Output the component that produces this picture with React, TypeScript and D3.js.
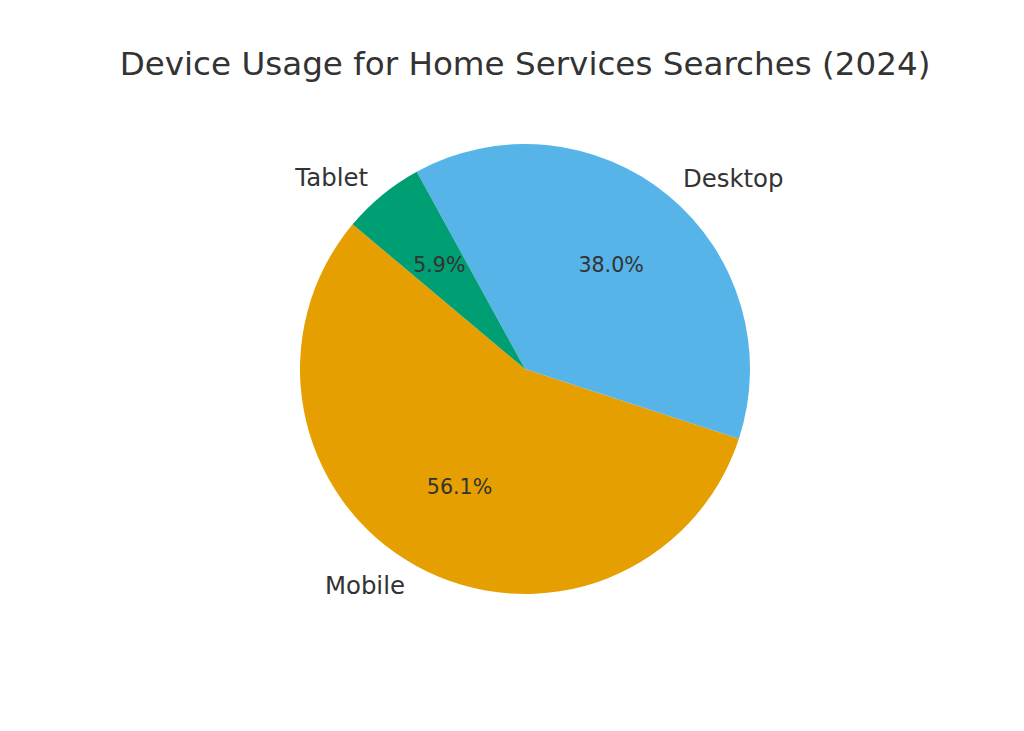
import * as d3 from 'd3';

const LABELS = ['Mobile', 'Desktop', 'Tablet'];
const VALUES = [56.1, 38.0, 5.9];
const COLORS = ['#E69F00', '#56B4E9', '#009E73'];
const TITLE = 'Device Usage for Home Services Searches (2024)';

const WIDTH = 1024;
const HEIGHT = 731;
const CX = 525;
const CY = 369;
const R = 225;
// matplotlib startangle=140, counterclockwise
const START_DEG = 140;

export default function App() {
  const pie = d3
    .pie<number>()
    .sort(null)
    .startAngle(((90 - START_DEG) * Math.PI) / 180)
    .endAngle(((90 - START_DEG - 360) * Math.PI) / 180);
  const arcs = pie(VALUES);
  const arcGen = d3.arc<d3.PieArcDatum<number>>().innerRadius(0).outerRadius(R);
  const total = d3.sum(VALUES);

  const pos = (a: number, r: number) => [r * Math.sin(a), -r * Math.cos(a)];

  return (
    <svg
      width={WIDTH}
      height={HEIGHT}
      style={{ position: 'absolute', left: 0, top: 0, background: '#fff' }}
      fontFamily="DejaVu Sans, sans-serif"
    >
      <text x={525} y={64} textAnchor="middle" dominantBaseline="central" fontSize={32.6} fill="#333333">
        {TITLE}
      </text>
      <g transform={`translate(${CX}, ${CY})`}>
        {arcs.map((a, i) => (
          <path key={LABELS[i]} d={arcGen(a) || ''} fill={COLORS[i]} />
        ))}
        {arcs.map((a, i) => {
          const mid = (a.startAngle + a.endAngle) / 2;
          const [lx, ly] = pos(mid, R * 1.1);
          const [px, py] = pos(mid, R * 0.6);
          return (
            <g key={`t-${LABELS[i]}`}>
              <text
                x={lx}
                y={ly}
                textAnchor={lx < 0 ? 'end' : 'start'}
                dominantBaseline="central"
                fontSize={24.4}
                fill="#333333"
              >
                {LABELS[i]}
              </text>
              <text x={px} y={py} textAnchor="middle" dominantBaseline="central" fontSize={20.6} fill="#333333">
                {((a.value / total) * 100).toFixed(1)}%
              </text>
            </g>
          );
        })}
      </g>
    </svg>
  );
}
